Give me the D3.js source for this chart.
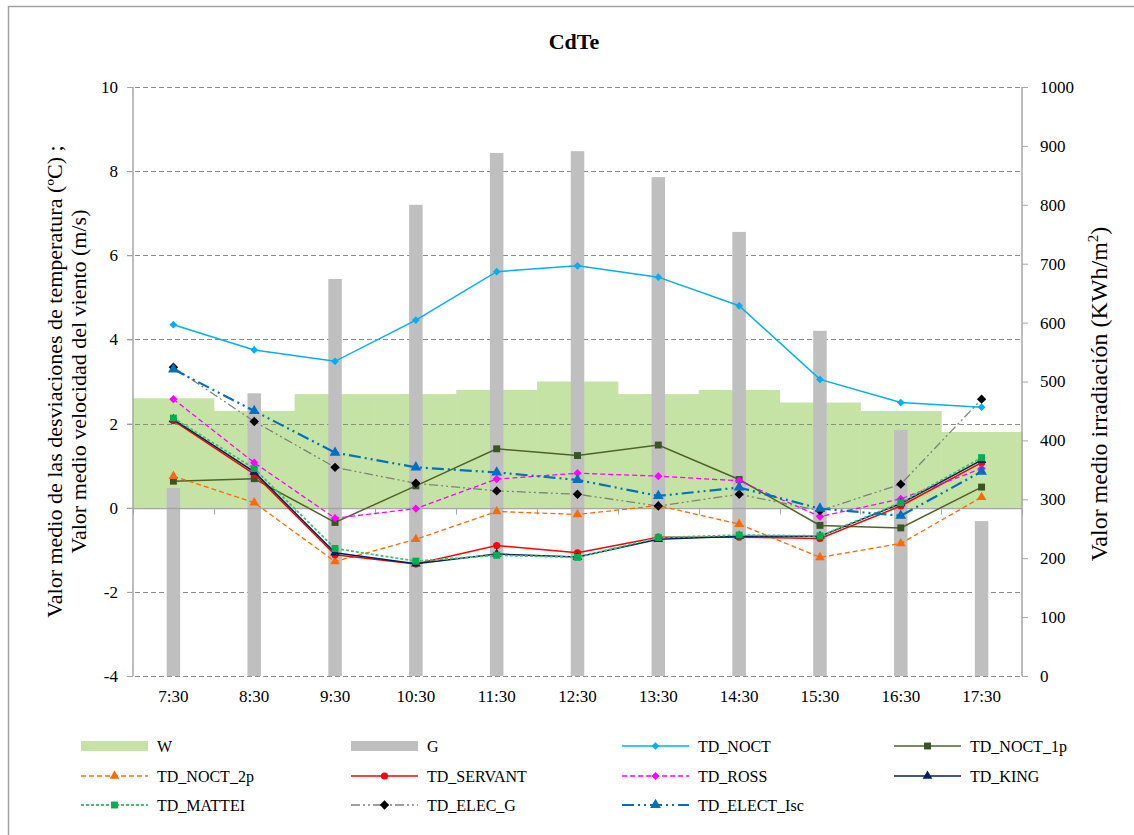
<!DOCTYPE html>
<html><head><meta charset="utf-8">
<script src="https://cdn.jsdelivr.net/npm/d3@7"></script>
<style>
html,body{margin:0;padding:0;background:#fff;}
svg{display:block;font-family:"Liberation Serif","Times New Roman",serif;}
svg text{font-family:"Liberation Serif","Times New Roman",serif;}
</style></head>
<body><svg id="c" width="1134" height="835"></svg>
<script>
const categories = ["7:30","8:30","9:30","10:30","11:30","12:30","13:30","14:30","15:30","16:30","17:30"];
const W = [2.6,2.3,2.7,2.7,2.8,3.0,2.7,2.8,2.5,2.3,1.8];
const G = [319,480,674,800,888,891,847,754,586,418,263];
const TD_NOCT = [4.35,3.75,3.48,4.46,5.61,5.75,5.48,4.80,3.05,2.50,2.39];
const TD_NOCT_1p = [0.63,0.69,-0.35,0.52,1.40,1.24,1.49,0.67,-0.42,-0.48,0.49];
const TD_NOCT_2p = [0.75,0.12,-1.28,-0.75,-0.09,-0.16,0.05,-0.39,-1.18,-0.85,0.25];
const TD_SERVANT = [2.07,0.80,-1.12,-1.34,-0.90,-1.07,-0.70,-0.70,-0.73,0.04,1.07];
const TD_ROSS = [2.58,1.07,-0.25,-0.02,0.68,0.82,0.75,0.64,-0.21,0.21,0.93];
const TD_KING = [2.10,0.85,-1.07,-1.33,-1.10,-1.17,-0.75,-0.68,-0.68,0.10,1.13];
const TD_MATTEI = [2.13,0.93,-0.97,-1.27,-1.13,-1.18,-0.71,-0.65,-0.67,0.12,1.19];
const TD_ELEC_G = [3.34,2.05,0.96,0.58,0.40,0.32,0.04,0.32,-0.07,0.56,2.58];
const TD_ELECT_Isc = [3.29,2.30,1.31,0.96,0.84,0.66,0.28,0.48,-0.02,-0.19,0.86];
const leftTicks = [-4,-2,0,2,4,6,8,10];
const rightTicks = [0,100,200,300,400,500,600,700,800,900,1000];

const series = [
  {name:"TD_NOCT", data:TD_NOCT, color:"#00B0F0", dash:null, w:1.5, sym:"diamond", size:30, fill:"#00B0F0"},
  {name:"TD_NOCT_1p", data:TD_NOCT_1p, color:"#4F6228", dash:null, w:1.5, sym:"square", size:48, fill:"#375623"},
  {name:"TD_NOCT_2p", data:TD_NOCT_2p, color:"#FF6A00", dash:"5,3", w:1.3, sym:"triangle", size:40, fill:"#FF6A00"},
  {name:"TD_SERVANT", data:TD_SERVANT, color:"#FF0000", dash:null, w:1.5, sym:"circle", size:40, fill:"#FF0000"},
  {name:"TD_ROSS", data:TD_ROSS, color:"#FF00FF", dash:"5,3", w:1.3, sym:"diamond", size:34, fill:"#FF00FF"},
  {name:"TD_KING", data:TD_KING, color:"#002060", dash:null, w:1.5, sym:"triangle", size:40, fill:"#002060"},
  {name:"TD_MATTEI", data:TD_MATTEI, color:"#3CC36F", dash:"3,2", w:1.8, sym:"square", size:48, fill:"#00B050"},
  {name:"TD_ELEC_G", data:TD_ELEC_G, color:"#808080", dash:"9,3,2,3,2,3", w:1.3, sym:"diamond", size:44, fill:"#000000"},
  {name:"TD_ELECT_Isc", data:TD_ELECT_Isc, color:"#0070C0", dash:"12,4,2,4,2,4", w:2.2, sym:"triangle", size:50, fill:"#0070C0"}
];
const symType = {diamond:d3.symbolSquare, square:d3.symbolSquare, triangle:d3.symbolTriangle, circle:d3.symbolCircle};
const symRot = s => s==="diamond" ? " rotate(45)" : "";

const svg = d3.select("#c");
const FONT = "Liberation Serif";
const L = 133, R = 1022, T = 87, B = 676;
const x = d3.scaleBand().domain(categories).range([L,R]).padding(0);
const yL = d3.scaleLinear().domain([-4,10]).range([B,T]);
const yR = d3.scaleLinear().domain([0,1000]).range([B,T]);
const axisCol = "#a6a6a6";

// border
svg.append("path").attr("d","M8.5,840 V6.5 H1140").attr("fill","none").attr("stroke","#a0a0a0").attr("stroke-width",1.5);

// title
svg.append("text").attr("x",574).attr("y",49).attr("text-anchor","middle").attr("font-family",FONT)
  .attr("font-size",22).attr("font-weight","bold").text("CdTe");

// W area (step bars)
svg.append("g").selectAll("rect").data(W).join("rect")
  .attr("x",(d,i)=>x(categories[i])).attr("width",x.bandwidth()+0.5)
  .attr("y",d=>yL(d)).attr("height",d=>yL(0)-yL(d)).attr("fill","#C6E3A6");

// gridlines
svg.append("g").selectAll("line").data(leftTicks).join("line")
  .attr("x1",L-6).attr("x2",R).attr("y1",d=>Math.round(yL(d))+0.5).attr("y2",d=>Math.round(yL(d))+0.5)
  .attr("stroke","#8c8c8c").attr("stroke-dasharray","5,3").attr("stroke-width",1);

// G bars
const gw = 13.5;
svg.append("g").selectAll("rect").data(G).join("rect")
  .attr("x",(d,i)=>x(categories[i])+x.bandwidth()/2-gw/2).attr("width",gw)
  .attr("y",d=>yR(d)).attr("height",d=>yR(0)-yR(d)).attr("fill","#BFBFBF");

// left axis
const axL = svg.append("g").attr("transform",`translate(${L},0)`)
  .call(d3.axisLeft(yL).tickValues(leftTicks).tickSize(6).tickPadding(9).tickFormat(d3.format("d")));
axL.attr("font-family",FONT);
axL.select(".domain").attr("stroke",axisCol).attr("stroke-width",1.5).attr("d",`M0,${T}V${B}`);
axL.selectAll(".tick line").attr("stroke",axisCol);
axL.selectAll(".tick text").attr("font-family",FONT).attr("font-size",17).attr("fill","#000").text(d=>d<0?"-"+Math.abs(d):d);

// right axis
const axR = svg.append("g").attr("transform",`translate(${R},0)`)
  .call(d3.axisRight(yR).tickValues(rightTicks).tickSize(6).tickPadding(12).tickFormat(d3.format("d")));
axR.attr("font-family",FONT);
axR.select(".domain").attr("stroke",axisCol).attr("stroke-width",1.5).attr("d",`M0,${T}V${B}`);
axR.selectAll(".tick line").attr("stroke",axisCol);
axR.selectAll(".tick text").attr("font-family",FONT).attr("font-size",17).attr("fill","#000");

// zero axis line with ticks at band boundaries
const y0 = Math.round(yL(0))+0.5;
svg.append("line").attr("x1",L).attr("x2",R).attr("y1",y0).attr("y2",y0).attr("stroke",axisCol).attr("stroke-width",1.5);
const bounds = categories.map(c=>x(c)).concat([x.range()[1]]);
svg.append("g").selectAll("line").data(bounds).join("line")
  .attr("x1",d=>Math.round(d)+0.5).attr("x2",d=>Math.round(d)+0.5).attr("y1",y0).attr("y2",y0+6)
  .attr("stroke",axisCol).attr("stroke-width",1);

// category labels
const axB = svg.append("g").attr("transform",`translate(0,${B})`)
  .call(d3.axisBottom(x).tickSize(0).tickPadding(14));
axB.attr("font-family",FONT);
axB.select(".domain").remove();
axB.selectAll(".tick text").attr("font-family",FONT).attr("font-size",17).attr("fill","#000");

// axis titles
const lt = svg.append("text").attr("transform",`translate(62,${(T+B)/2}) rotate(-90)`)
  .attr("text-anchor","middle").attr("font-size",22).attr("font-family",FONT);
lt.append("tspan").attr("x",0).attr("dy",0).text("Valor medio de las desviaciones de temperatura (ºC) ;");
lt.append("tspan").attr("x",0).attr("dy",24).text("Valor medio velocidad del viento (m/s)");
const rt = svg.append("text").attr("transform",`translate(1107,394) rotate(-90)`)
  .attr("text-anchor","middle").attr("font-size",24).attr("font-family",FONT);
rt.append("tspan").text("Valor medio irradiación (KWh/m");
rt.append("tspan").attr("font-size",15).attr("dy",-9).text("2");
rt.append("tspan").attr("dy",9).text(")");

// lines
const line = d3.line().x((d,i)=>x(categories[i])+x.bandwidth()/2).y(d=>yL(d));
series.forEach(s=>{
  svg.append("path").datum(s.data).attr("d",line).attr("fill","none")
    .attr("stroke",s.color).attr("stroke-width",s.w).attr("stroke-dasharray",s.dash);
  svg.append("g").selectAll("path").data(s.data).join("path")
    .attr("transform",(d,i)=>`translate(${x(categories[i])+x.bandwidth()/2},${yL(d)})${symRot(s.sym)}`)
    .attr("d",d3.symbol().type(symType[s.sym]).size(s.size)).attr("fill",s.fill);
});

// legend
const legendItems = [{name:"W",type:"rectW"},{name:"G",type:"rectG"}].concat(series.map(s=>({name:s.name,type:"line",s})));
const colX = [81,351,622,894], rowY = [746,776,805];
legendItems.forEach((it,k)=>{
  const cx = colX[k%4], cy = rowY[Math.floor(k/4)];
  const g = svg.append("g");
  if(it.type==="rectW"){
    g.append("rect").attr("x",cx).attr("y",cy-5).attr("width",67).attr("height",10).attr("fill","#C6E3A6");
  } else if(it.type==="rectG"){
    g.append("rect").attr("x",cx).attr("y",cy-5).attr("width",67).attr("height",10).attr("fill","#BFBFBF");
  } else {
    const s = it.s;
    g.append("line").attr("x1",cx).attr("x2",cx+67).attr("y1",cy).attr("y2",cy)
      .attr("stroke",s.color).attr("stroke-width",s.w).attr("stroke-dasharray",s.dash);
    g.append("path").attr("transform",`translate(${cx+33.5},${cy})${symRot(s.sym)}`).attr("d",d3.symbol().type(symType[s.sym]).size(s.size)).attr("fill",s.fill);
  }
  g.append("text").attr("x",cx+76).attr("y",cy+6).attr("font-size",16).attr("font-family",FONT).text(it.name);
});
</script></body></html>
